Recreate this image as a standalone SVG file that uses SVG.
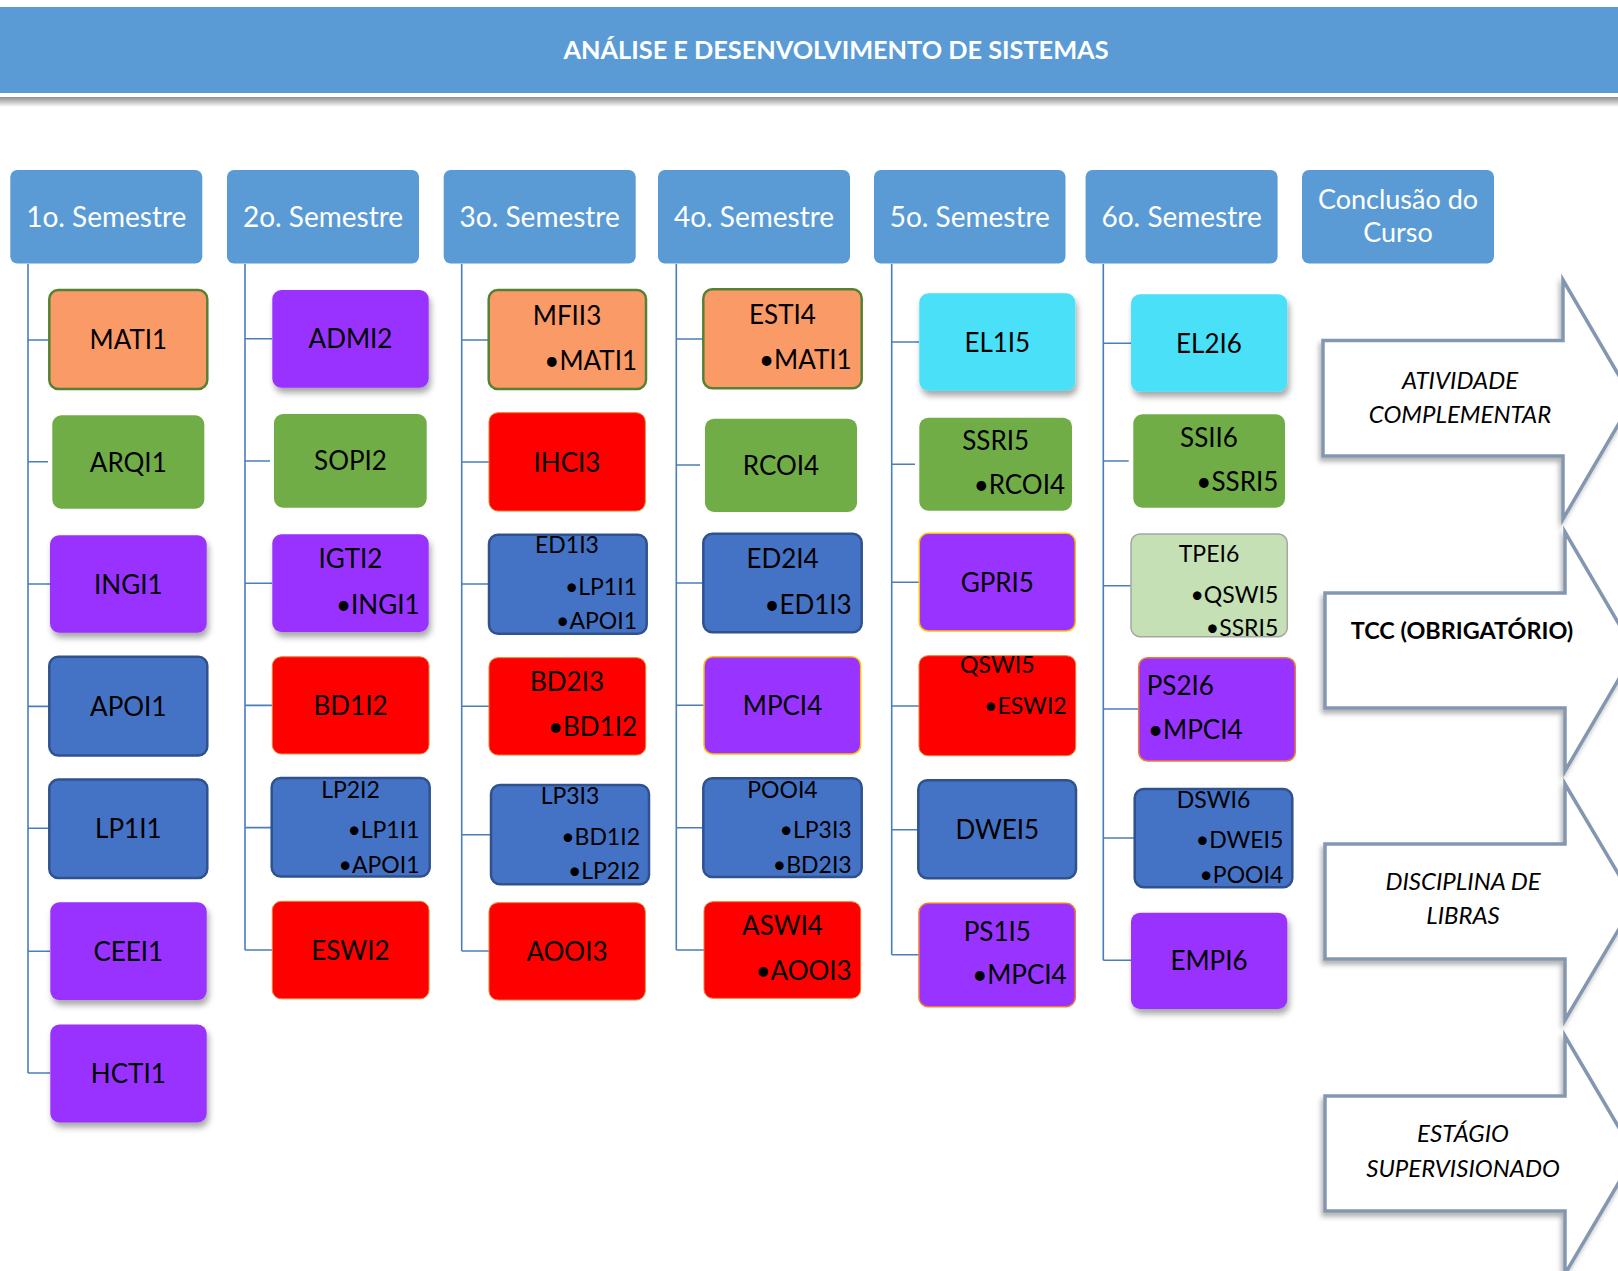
<svg xmlns="http://www.w3.org/2000/svg" width="1618" height="1271" viewBox="0 0 1618 1271">
<defs>
<filter id="sh" x="-10%" y="-10%" width="130%" height="140%"><feDropShadow dx="2" dy="5" stdDeviation="3" flood-color="#000" flood-opacity="0.35"/></filter>
<filter id="ash" x="-5%" y="-5%" width="115%" height="120%"><feDropShadow dx="-2" dy="4" stdDeviation="2.5" flood-color="#000" flood-opacity="0.3"/></filter>
<linearGradient id="barsh" x1="0" y1="0" x2="0" y2="1"><stop offset="0" stop-color="#8c8c8c"/><stop offset="1" stop-color="#ffffff"/></linearGradient>
</defs>
<style>
text{font-family:Lato,"Liberation Sans",sans-serif;}
.hd{fill:#5B9BD5;}
.ht{fill:#fff;font-size:28px;text-anchor:middle;}
.t{font-size:26px;fill:#000;text-anchor:middle;}
.s{font-size:23px;fill:#000;text-anchor:middle;}
.b{font-size:26px;fill:#000;text-anchor:end;}
.bs{font-size:23px;fill:#000;text-anchor:end;}
.or{fill:#FA9A67;stroke:#548235;stroke-width:2.5;}
.gr{fill:#70AD47;}
.pu{fill:#9933FF;}
.pg{fill:#9933FF;stroke:#FFC000;stroke-width:1.5;}
.po{fill:#9933FF;stroke:#ED7D31;stroke-width:1.5;}
.rd{fill:#FF0000;stroke:#ED7D31;stroke-width:1;}
.bl{fill:#4472C4;stroke:#2F528F;stroke-width:2.5;}
.cy{fill:#48E0F8;}
.lg{fill:#C5E0B4;stroke:#A5A5A5;stroke-width:1.5;}
.cn{stroke:#4A7EBB;stroke-width:1.6;fill:none;}
.ar{fill:#fff;stroke:#8497B0;stroke-width:3.5;}
.at{font-size:24px;font-style:italic;fill:#000;text-anchor:middle;}
</style>
<rect x="0" y="0" width="1618" height="1271" fill="#fff"/>
<g id="title">
<rect x="0" y="97" width="1618" height="10" fill="url(#barsh)"/>
<rect x="0" y="7" width="1618" height="86" fill="#5B9BD5"/>
<text x="836" y="59" style="font-size:25.3px;font-weight:bold;fill:#fff;text-anchor:middle;">ANÁLISE E DESENVOLVIMENTO DE SISTEMAS</text>
</g>
<g id="connectors">
<path class="cn" d="M28,264V1073M28,340H49M28,461.7H48M28,584H50M28,706.4H49M28,828.3H49M28,951.2H50M28,1073H50"/>
<path class="cn" d="M245,264V950M245,338.7H272M245,461H270M245,583.3H272M245,705.4H272M245,827.6H272M245,950H272"/>
<path class="cn" d="M461.7,264V951M461.7,340H489M461.7,462H489M461.7,584H489M461.7,706.3H489M461.7,834.7H491M461.7,951H489"/>
<path class="cn" d="M676.3,264V950M676.3,339H703M676.3,465H700M676.3,583H703M676.3,705.3H704M676.3,827.7H703M676.3,950H704"/>
<path class="cn" d="M891.7,264V954.7M891.7,342H919M891.7,464.3H915M891.7,582.3H919M891.7,706H919M891.7,829.7H918M891.7,954.7H919"/>
<path class="cn" d="M1103.3,264V960.3M1103.3,343.3H1131M1103.3,461H1128.7M1103.3,585.7H1131M1103.3,709H1138.7M1103.3,838H1134.7M1103.3,960.3H1131"/>
</g>
<g id="h1"><rect class="hd" x="10.3" y="170" width="192" height="93.5" rx="7"/><text class="ht" x="106.3" y="227">1o. Semestre</text></g>
<g id="h2"><rect class="hd" x="227" y="170" width="192" height="93.5" rx="7"/><text class="ht" x="323" y="227">2o. Semestre</text></g>
<g id="h3"><rect class="hd" x="443.7" y="170" width="192" height="93.5" rx="7"/><text class="ht" x="539.7" y="227">3o. Semestre</text></g>
<g id="h4"><rect class="hd" x="658" y="170" width="192" height="93.5" rx="7"/><text class="ht" x="754" y="227">4o. Semestre</text></g>
<g id="h5"><rect class="hd" x="874" y="170" width="191.5" height="93.5" rx="7"/><text class="ht" x="969.8" y="227">5o. Semestre</text></g>
<g id="h6"><rect class="hd" x="1085.6" y="170" width="192" height="93.5" rx="7"/><text class="ht" x="1181.6" y="227">6o. Semestre</text></g>
<g id="h7"><rect class="hd" x="1302" y="170" width="192" height="93.5" rx="7"/><text class="ht" x="1398" y="209" style="font-size:27px">Conclusão do</text><text class="ht" x="1398" y="242" style="font-size:27px">Curso</text></g>

<g id="MATI1"><rect class="or" x="49.3" y="290" width="158" height="99" rx="9"/><text class="t" x="128.3" y="349">MATI1</text></g>
<g id="ARQI1"><rect class="gr" x="52.3" y="415.3" width="152" height="93.4" rx="9"/><text class="t" x="128.3" y="471.5">ARQI1</text></g>
<g id="INGI1"><rect class="pu" filter="url(#sh)" x="50" y="535.3" width="156.7" height="97.4" rx="9"/><text class="t" x="128.3" y="593.5">INGI1</text></g>
<g id="APOI1"><rect class="bl" x="49.3" y="656.8" width="158" height="98.8" rx="9"/><text class="t" x="128.3" y="715.7">APOI1</text></g>
<g id="LP1I1"><rect class="bl" x="49.3" y="779.4" width="158" height="98.5" rx="9"/><text class="t" x="128.3" y="838">LP1I1</text></g>
<g id="CEEI1"><rect class="pu" filter="url(#sh)" x="50.3" y="902.3" width="156.4" height="97.8" rx="9"/><text class="t" x="128.3" y="960.7">CEEI1</text></g>
<g id="HCTI1"><rect class="pu" filter="url(#sh)" x="50.3" y="1024.6" width="156.4" height="97.8" rx="9"/><text class="t" x="128.3" y="1083">HCTI1</text></g>

<g id="ADMI2"><rect class="pu" filter="url(#sh)" x="272.3" y="290" width="156.4" height="97.7" rx="9"/><text class="t" x="350.5" y="348">ADMI2</text></g>
<g id="SOPI2"><rect class="gr" x="274" y="414" width="152.7" height="93.7" rx="9"/><text class="t" x="350.5" y="470">SOPI2</text></g>
<g id="IGTI2"><rect class="pu" filter="url(#sh)" x="272.3" y="534.3" width="156.4" height="97.7" rx="9"/><text class="t" x="350.5" y="568.3">IGTI2</text><text class="b" x="419.5" y="614">•INGI1</text></g>
<g id="BD1I2"><rect class="rd" x="272.3" y="656.8" width="156.7" height="97.1" rx="9"/><text class="t" x="350.5" y="714.8">BD1I2</text></g>
<g id="LP2I2"><rect class="bl" x="271.7" y="778" width="158" height="98.5" rx="9"/><text class="s" x="350.5" y="798">LP2I2</text><text class="bs" x="419.5" y="837.6">•LP1I1</text><text class="bs" x="419.5" y="873.1">•APOI1</text></g>
<g id="ESWI2"><rect class="rd" x="272.3" y="901.3" width="156.7" height="97.5" rx="9"/><text class="t" x="350.5" y="959.5">ESWI2</text></g>

<g id="MFII3"><rect class="or" x="488.7" y="290" width="157.3" height="99" rx="9"/><text class="t" x="567" y="325">MFII3</text><text class="b" x="637" y="370">•MATI1</text></g>
<g id="IHCI3"><rect class="rd" x="489" y="412.7" width="156.3" height="98.3" rx="9"/><text class="t" x="567" y="471.5">IHCI3</text></g>
<g id="ED1I3"><rect class="bl" x="489" y="534.7" width="157.7" height="99" rx="9"/><text class="s" x="567" y="553.3">ED1I3</text><text class="bs" x="637" y="595">•LP1I1</text><text class="bs" x="637" y="629">•APOI1</text></g>
<g id="BD2I3"><rect class="rd" x="489" y="657.7" width="156.7" height="97.3" rx="9"/><text class="t" x="567" y="691">BD2I3</text><text class="b" x="637" y="736">•BD1I2</text></g>
<g id="LP3I3"><rect class="bl" x="491" y="785" width="158" height="99.3" rx="9"/><text class="s" x="570" y="804.3">LP3I3</text><text class="bs" x="640" y="845">•BD1I2</text><text class="bs" x="640" y="879.3">•LP2I2</text></g>
<g id="AOOI3"><rect class="rd" x="489" y="902.7" width="156.3" height="97.3" rx="9"/><text class="t" x="567" y="960.5">AOOI3</text></g>

<g id="ESTI4"><rect class="or" x="703.3" y="289.3" width="158.4" height="99" rx="9"/><text class="t" x="782.5" y="324">ESTI4</text><text class="b" x="851.7" y="369.3">•MATI1</text></g>
<g id="RCOI4"><rect class="gr" x="705" y="418.7" width="152" height="93.3" rx="9"/><text class="t" x="781" y="474.5">RCOI4</text></g>
<g id="ED2I4"><rect class="bl" x="703.3" y="533.7" width="158.4" height="98.6" rx="9"/><text class="t" x="782.5" y="568.3">ED2I4</text><text class="b" x="851.7" y="614">•ED1I3</text></g>
<g id="MPCI4"><rect class="pg" x="704" y="656.7" width="156.7" height="97.3" rx="9"/><text class="t" x="782.5" y="714.5">MPCI4</text></g>
<g id="POOI4"><rect class="bl" x="703.3" y="778.3" width="158.4" height="98.7" rx="9"/><text class="s" x="782.5" y="797.7">POOI4</text><text class="bs" x="851.7" y="837.7">•LP3I3</text><text class="bs" x="851.7" y="872.7">•BD2I3</text></g>
<g id="ASWI4"><rect class="rd" x="704" y="901.7" width="156.7" height="96.6" rx="9"/><text class="t" x="782.5" y="935">ASWI4</text><text class="b" x="851.7" y="980">•AOOI3</text></g>

<g id="EL1I5"><rect class="cy" filter="url(#sh)" x="919.3" y="293.3" width="156" height="97.4" rx="9"/><text class="t" x="997.3" y="351.5">EL1I5</text></g>
<g id="SSRI5"><rect class="gr" x="919.3" y="417.7" width="152.7" height="93" rx="9"/><text class="t" x="995.7" y="450">SSRI5</text><text class="b" x="1065" y="494.3">•RCOI4</text></g>
<g id="GPRI5"><rect class="pg" x="919.3" y="533.3" width="156" height="97.7" rx="9"/><text class="t" x="997.3" y="591.5">GPRI5</text></g>
<g id="QSWI5"><rect class="rd" x="919" y="655.7" width="156.7" height="100" rx="9"/><text x="997.3" y="673.3" style="font-size:23px;text-anchor:middle;">QSWI5</text><text x="1066.7" y="714.3" style="font-size:23px;text-anchor:end;">•ESWI2</text></g>
<g id="DWEI5"><rect class="bl" x="918.3" y="780.3" width="157.7" height="98" rx="9"/><text class="t" x="997.3" y="838.5">DWEI5</text></g>
<g id="PS1I5"><rect class="po" x="919" y="903.3" width="156.3" height="103.4" rx="9"/><text class="t" x="997.3" y="940.7">PS1I5</text><text class="b" x="1066.7" y="984.3">•MPCI4</text></g>

<g id="EL2I6"><rect class="cy" filter="url(#sh)" x="1131" y="294.3" width="156.3" height="97.4" rx="9"/><text class="t" x="1209" y="352.5">EL2I6</text></g>
<g id="SSII6"><rect class="gr" x="1133.3" y="414.3" width="151.7" height="93.4" rx="9"/><text class="t" x="1209" y="446.7">SSII6</text><text class="b" x="1278.3" y="491">•SSRI5</text></g>
<g id="TPEI6"><rect class="lg" x="1131" y="534" width="156.3" height="102.7" rx="9"/><text class="s" x="1209" y="561.7">TPEI6</text><text class="bs" x="1278.3" y="602.7">•QSWI5</text><text class="bs" x="1278.3" y="635.7">•SSRI5</text></g>
<g id="PS2I6"><rect class="po" x="1138.7" y="657.7" width="156.6" height="103.3" rx="9"/><text x="1146.7" y="695" style="font-size:26px;">PS2I6</text><text x="1148" y="739.3" style="font-size:26px;">•MPCI4</text></g>
<g id="DSWI6"><rect class="bl" x="1134.7" y="789" width="157.6" height="98.3" rx="9"/><text class="s" x="1213.5" y="807.7">DSWI6</text><text class="bs" x="1283.3" y="848.3">•DWEI5</text><text class="bs" x="1283.3" y="882.7">•POOI4</text></g>
<g id="EMPI6"><rect class="pu" filter="url(#sh)" x="1131" y="912.7" width="156.3" height="96.3" rx="9"/><text class="t" x="1209" y="970">EMPI6</text></g>

<g id="arrow1"><path class="ar" filter="url(#ash)" d="M1323,340.5H1563V280L1633,399.5L1563,519V456H1323Z"/><text class="at" x="1460" y="388.6">ATIVIDADE</text><text class="at" x="1460" y="422.5">COMPLEMENTAR</text></g>
<g id="arrow2"><path class="ar" filter="url(#ash)" d="M1325,593H1565V532L1635,651.5L1565,771V708H1325Z"/><text x="1462" y="638.6" style="font-size:23.4px;font-weight:bold;text-anchor:middle;">TCC (OBRIGATÓRIO)</text></g>
<g id="arrow3"><path class="ar" filter="url(#ash)" d="M1325,844H1565V784L1635,902L1565,1020V959H1325Z"/><text class="at" x="1463" y="890.4">DISCIPLINA DE</text><text class="at" x="1463" y="923.8">LIBRAS</text></g>
<g id="arrow4"><path class="ar" filter="url(#ash)" d="M1325,1096H1565V1036L1635,1155L1565,1274V1211H1325Z"/><text class="at" x="1463" y="1141.6">ESTÁGIO</text><text class="at" x="1463" y="1176.8">SUPERVISIONADO</text></g>
</svg>
